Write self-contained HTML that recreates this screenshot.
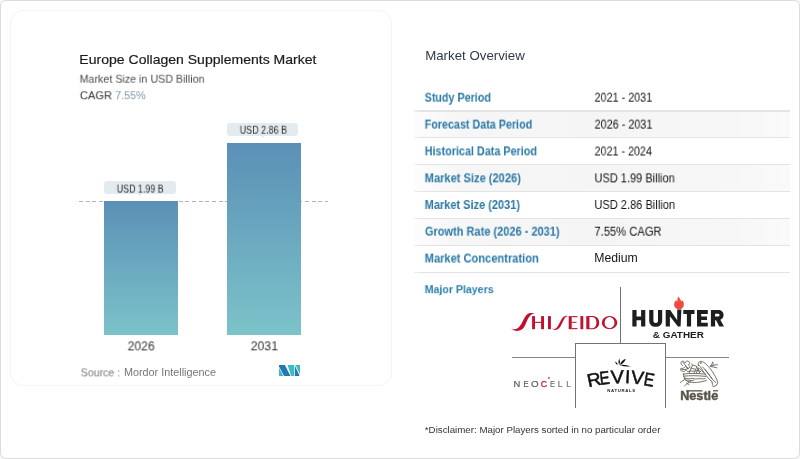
<!DOCTYPE html>
<html><head><meta charset="utf-8">
<style>
*{box-sizing:border-box;margin:0;padding:0}
html,body{width:800px;height:459px;overflow:hidden;background:#f7f7f7}
body{position:relative;font-family:"Liberation Sans",sans-serif;color:#222}
.outer{position:absolute;left:0;top:0;width:800px;height:459px;border:1px solid #dcdcdc;border-radius:6px;background:#fff}
.card{position:absolute;left:9.5px;top:9.5px;width:382px;height:376px;border:1px solid #f4f4f4;border-radius:13px;background:#fff}
.t{position:absolute;white-space:nowrap;line-height:1;transform-origin:0 0;will-change:transform}
.bar{position:absolute;background:linear-gradient(180deg,#5a90b6 0%,#7cc3c9 100%)}
.lbl{position:absolute;background:#e4ebee;border-radius:3px}
.dash{position:absolute;left:79px;top:200.8px;width:249px;height:1px;background:repeating-linear-gradient(90deg,#b4b4b4 0,#b4b4b4 4px,transparent 4px,transparent 6.65px)}
.row{position:absolute;left:414px;width:376px;height:26.8px}
.row.g{background:linear-gradient(90deg,#fdfdfd 0%,#f6f6f6 12%,#f5f5f5 50%,#f7f7f7 85%,#fafafa 100%)}
.sep{position:absolute;left:414px;width:376px;height:1.2px;background:linear-gradient(90deg,#f0f0f0 0,#e3e3e3 8px,#e3e3e3 100%)}
.ln{position:absolute;background:#737373}
</style></head><body>
<div class="outer"></div>
<div class="card"></div>

<div class="dash"></div>
<div class="bar" style="left:104px;top:201px;width:74px;height:134px"></div>
<div class="bar" style="left:227px;top:143px;width:74px;height:192px"></div>
<div class="lbl" style="left:104px;top:181px;width:72px;height:13px"></div>
<div class="lbl" style="left:227px;top:123px;width:71px;height:13px"></div>
<div style="position:absolute;left:138px;top:194px;width:0;height:0;border-left:2px solid transparent;border-right:2px solid transparent;border-top:2px solid #e4ebee"></div>
<div style="position:absolute;left:261px;top:136px;width:0;height:0;border-left:2px solid transparent;border-right:2px solid transparent;border-top:2px solid #e4ebee"></div>

<svg style="position:absolute;left:279px;top:365px" width="21" height="11" viewBox="0 0 21 10.8">
  <polygon points="0,0 5.9,0 11.5,10.8 5.05,10.8 0,1.4" fill="#2479b4"/>
  <polygon points="0,2.7 4.3,10.8 0,10.8" fill="#3bb9bf"/>
  <polygon points="8.6,0 15.3,0 15.3,10.8 12.2,10.8" fill="#3bbcc0"/>
  <polygon points="16.5,0 21,0 21,9.4" fill="#3bbcc0"/>
  <polygon points="16,0.6 20.6,10.8 16,10.8" fill="#2479b4"/>
</svg>

<div class="row g" style="top:111.60px;height:25.65px"></div>
<div class="row g" style="top:165.30px;height:25.65px"></div>
<div class="row g" style="top:219.00px;height:25.65px"></div>
<div class="sep" style="top:110.40px"></div>
<div class="sep" style="top:137.25px"></div>
<div class="sep" style="top:164.10px"></div>
<div class="sep" style="top:190.95px"></div>
<div class="sep" style="top:217.80px"></div>
<div class="sep" style="top:244.65px"></div>
<div class="sep" style="top:271.50px"></div>

<div class="t" style="left:79px;top:52px;font-size:13.27px;font-weight:400;color:#1b1b1b;transform:translate(0.37px,0.69px) scaleX(1.0574);font-family:'Liberation Sans',sans-serif;-webkit-text-stroke:0.2px #1b1b1b;">Europe Collagen Supplements Market</div>
<div class="t" style="left:79px;top:73px;font-size:10.96px;font-weight:400;color:#4a4a4a;transform:translate(0.63px,0.69px) scaleX(0.9767);font-family:'Liberation Sans',sans-serif;">Market Size in USD Billion</div>
<div class="t" style="left:79px;top:90px;font-size:11.24px;font-weight:400;color:#333;transform:translate(0.90px,0.25px) scaleX(0.9920);font-family:'Liberation Sans',sans-serif;">CAGR</div>
<div class="t" style="left:115px;top:90px;font-size:11.24px;font-weight:400;color:#7f98aa;transform:translate(0.27px,0.15px) scaleX(0.9557);font-family:'Liberation Sans',sans-serif;">7.55%</div>
<div class="t" style="left:425px;top:49px;font-size:12.57px;font-weight:400;color:#2f3a45;transform:translate(0.15px,0.75px) scaleX(1.0570);font-family:'Liberation Sans',sans-serif;">Market Overview</div>
<div class="t" style="left:424px;top:92px;font-size:11.87px;font-weight:700;color:#2b79a5;transform:translate(0.64px,0.69px) scaleX(0.9052);font-family:'Liberation Sans',sans-serif;">Study Period</div>
<div class="t" style="left:424px;top:119px;font-size:11.87px;font-weight:700;color:#2b79a5;transform:translate(0.68px,0.60px) scaleX(0.9061);font-family:'Liberation Sans',sans-serif;">Forecast Data Period</div>
<div class="t" style="left:424px;top:146px;font-size:11.87px;font-weight:700;color:#2b79a5;transform:translate(0.72px,0.37px) scaleX(0.9106);font-family:'Liberation Sans',sans-serif;">Historical Data Period</div>
<div class="t" style="left:424px;top:173px;font-size:11.87px;font-weight:700;color:#2b79a5;transform:translate(0.68px,0.27px) scaleX(0.9353);font-family:'Liberation Sans',sans-serif;">Market Size (2026)</div>
<div class="t" style="left:424px;top:200px;font-size:11.87px;font-weight:700;color:#2b79a5;transform:translate(0.67px,0.00px) scaleX(0.9268);font-family:'Liberation Sans',sans-serif;">Market Size (2031)</div>
<div class="t" style="left:424px;top:226px;font-size:11.87px;font-weight:700;color:#2b79a5;transform:translate(0.92px,0.68px) scaleX(0.9287);font-family:'Liberation Sans',sans-serif;">Growth Rate (2026 - 2031)</div>
<div class="t" style="left:424px;top:253px;font-size:11.87px;font-weight:700;color:#2b79a5;transform:translate(0.67px,0.56px) scaleX(0.9357);font-family:'Liberation Sans',sans-serif;">Market Concentration</div>
<div class="t" style="left:594px;top:92px;font-size:11.87px;font-weight:400;color:#141414;transform:translate(0.49px,0.65px) scaleX(0.9118);font-family:'Liberation Sans',sans-serif;">2021 - 2031</div>
<div class="t" style="left:594px;top:119px;font-size:11.87px;font-weight:400;color:#141414;transform:translate(0.58px,0.59px) scaleX(0.9132);font-family:'Liberation Sans',sans-serif;">2026 - 2031</div>
<div class="t" style="left:594px;top:146px;font-size:11.87px;font-weight:400;color:#141414;transform:translate(0.55px,0.45px) scaleX(0.9058);font-family:'Liberation Sans',sans-serif;">2021 - 2024</div>
<div class="t" style="left:594px;top:173px;font-size:11.87px;font-weight:400;color:#141414;transform:translate(0.49px,0.35px) scaleX(0.9291);font-family:'Liberation Sans',sans-serif;">USD 1.99 Billion</div>
<div class="t" style="left:594px;top:199px;font-size:11.87px;font-weight:400;color:#141414;transform:translate(0.39px,1.00px) scaleX(0.9336);font-family:'Liberation Sans',sans-serif;">USD 2.86 Billion</div>
<div class="t" style="left:594px;top:226px;font-size:11.87px;font-weight:400;color:#141414;transform:translate(0.40px,0.69px) scaleX(0.9429);font-family:'Liberation Sans',sans-serif;">7.55% CAGR</div>
<div class="t" style="left:594px;top:253px;font-size:11.87px;font-weight:400;color:#141414;transform:translate(0.25px,0.33px) scaleX(1.0323);font-family:'Liberation Sans',sans-serif;">Medium</div>
<div class="t" style="left:424px;top:283px;font-size:11.73px;font-weight:700;color:#2b7fae;transform:translate(0.69px,0.13px) scaleX(0.9047);font-family:'Liberation Sans',sans-serif;">Major Players</div>
<div class="t" style="left:116px;top:184px;font-size:10.20px;font-weight:400;color:#1f272d;transform:translate(0.80px,0.57px) scaleX(0.8701);font-family:'Liberation Sans',sans-serif;">USD 1.99 B</div>
<div class="t" style="left:239px;top:125px;font-size:10.20px;font-weight:400;color:#1f272d;transform:translate(0.73px,0.74px) scaleX(0.8803);font-family:'Liberation Sans',sans-serif;">USD 2.86 B</div>
<div class="t" style="left:127px;top:340px;font-size:12.22px;font-weight:400;color:#333;transform:translate(0.63px,0.32px) scaleX(0.9924);font-family:'Liberation Sans',sans-serif;">2026</div>
<div class="t" style="left:250px;top:340px;font-size:12.22px;font-weight:400;color:#333;transform:translate(0.70px,0.27px) scaleX(0.9997);font-family:'Liberation Sans',sans-serif;">2031</div>
<div class="t" style="left:80px;top:367px;font-size:10.75px;font-weight:400;color:#777;transform:translate(0.69px,0.32px) scaleX(0.9857);font-family:'Liberation Sans',sans-serif;">Source :</div>
<div class="t" style="left:123px;top:367px;font-size:10.75px;font-weight:400;color:#777;transform:translate(0.94px,0.32px) scaleX(1.0065);font-family:'Liberation Sans',sans-serif;">Mordor Intelligence</div>
<div class="t" style="left:424px;top:425px;font-size:9.64px;font-weight:400;color:#333;transform:translate(0.83px,0.04px) scaleX(1.0101);font-family:'Liberation Sans',sans-serif;">*Disclaimer: Major Players sorted in no particular order</div>

<!-- logo grid lines -->
<div class="ln" style="left:620px;top:287px;width:1px;height:56px"></div>
<div class="ln" style="left:575px;top:342.5px;width:91px;height:1px"></div>
<div class="ln" style="left:575px;top:342.5px;width:1px;height:65px"></div>
<div class="ln" style="left:665px;top:342.5px;width:1px;height:65px"></div>
<div class="ln" style="left:511.6px;top:356.6px;width:63.6px;height:1px;background:#858585"></div>
<div class="ln" style="left:665px;top:356.6px;width:64.2px;height:1px;background:#858585"></div>

<svg style="position:absolute;left:0;top:0" width="800" height="459" viewBox="0 0 800 459">
<!-- SHISEIDO -->
<g fill="#c01130">
  <path d="M511.2,328 C512.8,329.6 515.5,329.6 518,328 C520.5,326.2 522,322.5 523.6,319.5 C525.2,316.5 527,313.6 530,313 C532,312.6 534.2,313.2 535.6,314.5 C533.8,313.8 532,314 530.6,315.2 C528.8,316.8 527.6,319.5 526.3,322.5 C524.8,326.5 523,329.5 519.5,330.6 C516.5,331.4 513,330.6 511.2,328 Z"/>
  <path d="M552.2,328.3 C553.5,329.3 555,329.2 556.4,328 C558,326.4 559.5,323 560.8,320.5 C562,318 563.5,316.2 565.5,315.9 C566.3,315.8 567.1,315.9 567.8,316.2 C566.6,316.3 565.6,316.9 564.8,318 C563.4,320 562.4,323 561,325.5 C559.5,328.2 557.8,329.8 555.4,330 C554.2,330.1 553,329.5 552.2,328.3 Z"/>
  <rect x="532.1" y="316.1" width="2.9" height="13.1"/>
  <rect x="541.1" y="316.1" width="2.9" height="13.1"/>
  <rect x="534.8" y="321.8" width="6.5" height="1.1"/>
  <rect x="548" y="316.1" width="2.9" height="13.1"/>
  <rect x="568.7" y="316.1" width="3" height="13.1"/>
  <rect x="571.5" y="316.1" width="6" height="1.1"/>
  <rect x="571.5" y="321.8" width="5" height="1.0"/>
  <rect x="571.5" y="328.1" width="6" height="1.1"/>
  <rect x="580.4" y="316.1" width="2.9" height="13.1"/>
  <rect x="586.3" y="316.1" width="3" height="13.1"/>
  <path fill-rule="evenodd" d="M589,316.1 L592,316.1 C596.5,316.1 599.2,318.8 599.2,322.65 C599.2,326.5 596.5,329.2 592,329.2 L589,329.2 Z M589.2,317.1 L591.6,317.1 C594.8,317.1 596.4,319.2 596.4,322.65 C596.4,326.1 594.8,328.2 591.6,328.2 L589.2,328.2 Z"/>
  <path fill-rule="evenodd" d="M601.8,322.65 A7.75,6.6 0 1 0 617.3,322.65 A7.75,6.6 0 1 0 601.8,322.65 Z M604.6,322.65 A4.95,5.6 0 1 0 614.5,322.65 A4.95,5.6 0 1 0 604.6,322.65 Z"/>
</g>
<!-- HUNTER -->
<g fill="#1e1e1e">
  <path d="M632.35,310.1 h4.2 v6.5 h4.55 v-6.5 h4.2 v16.4 h-4.2 v-6.2 h-4.55 v6.2 h-4.2 Z"/>
  <path d="M649.2,310.1 H653.4 V320.5 C653.4,322.3 654.3,323 655.7,323 C657.1,323 658,322.3 658,320.5 V310.1 H662.2 V320.5 C662.2,324.6 659.5,326.8 655.7,326.8 C651.9,326.8 649.2,324.6 649.2,320.5 Z"/>
  <path d="M665.7,326.5 V310.1 H670.2 L677.2,320.3 V309.6 H681.4 L680.6,326.5 H677.9 L669.9,316.3 V326.5 Z"/>
  <path d="M683.3,310.1 H694.5 V314.1 H691.1 V326.5 H686.9 V314.1 H683.3 Z"/>
  <path d="M697,310.1 H707.8 V313.9 H701.2 V316.5 H707 V320.1 H701.2 V322.7 H707.8 V326.5 H697 Z"/>
  <path fill-rule="evenodd" d="M710.9,326.5 V310.1 H718 C721.5,310.1 723.6,312.2 723.6,315 C723.6,317.3 722.3,319 720.3,319.7 L724,326.5 H719.3 L716.1,320.2 H715.1 V326.5 Z M715.1,313.8 H717.8 C719,313.8 719.6,314.4 719.6,315.1 C719.6,315.9 719,316.6 717.8,316.6 H715.1 Z"/>
</g>
<path d="M678.2,296.4 C679.5,298 680.8,299.5 681.2,301.5 C681.8,301 682.2,300.8 682.6,300.6 C683.6,302 684,303.5 683.8,305 C683.6,307.5 681.8,309.3 679.2,309.3 C676.4,309.3 674.2,307.4 674.1,304.8 C674,302.8 675,301.2 676.3,299.9 C676.5,300.8 676.9,301.5 677.4,301.8 C677.2,299.8 677.5,298 678.2,296.4 Z" fill="#f04a3c"/>
<text x="652.8" y="338.2" font-family="Liberation Sans" font-weight="700" font-size="9.8" fill="#1e1e1e" textLength="51" lengthAdjust="spacingAndGlyphs">&amp; GATHER</text>
<!-- NEOCELL -->
<g font-family="Liberation Sans" font-size="9.2" fill="#555" stroke="#555" stroke-width="0.15">
  <text x="513.6" y="387.4" textLength="6.8" lengthAdjust="spacingAndGlyphs">N</text>
  <text x="523.6" y="387.4" textLength="5.2" lengthAdjust="spacingAndGlyphs">E</text>
  <text x="531" y="387.4" textLength="7.6" lengthAdjust="spacingAndGlyphs">O</text>
  <text x="540.8" y="387.4" textLength="6.4" lengthAdjust="spacingAndGlyphs" fill="#d0246a" stroke="#d0246a" stroke-width="0.35">C</text>
  <text x="550" y="387.4" textLength="5" lengthAdjust="spacingAndGlyphs" fill="#666" stroke="#666">E</text>
  <text x="557.8" y="387.4" textLength="4.8" lengthAdjust="spacingAndGlyphs" fill="#6a6a6a" stroke="#6a6a6a">L</text>
  <text x="566.3" y="387.4" textLength="4.8" lengthAdjust="spacingAndGlyphs" fill="#777" stroke="#777">L</text>
</g>
<circle cx="548.9" cy="377.9" r="0.95" fill="#cf2a69"/>
<!-- REVIVE -->
<g font-family="Liberation Sans" font-size="18.5" fill="#111" stroke="#111" stroke-width="0.5" text-anchor="middle">
<text transform="translate(595.3,385.9) rotate(-12) scale(1.05,1)">R</text>
<text transform="translate(605.4,384.1) rotate(-6.5) scale(0.82,1)">E</text>
<text transform="translate(617.7,383.2) rotate(-2.5) scale(1.07,1)">V</text>
<text transform="translate(627.3,383.2) rotate(3)">I</text>
<text transform="translate(636.9,383.8) rotate(6) scale(1.04,1)">V</text>
<text transform="translate(648.2,385.8) rotate(9.5) scale(0.84,1)">E</text>
</g>
<text x="607.3" y="391.8" font-family="Liberation Sans" font-weight="700" font-size="4.3" fill="#222" textLength="27.8" lengthAdjust="spacing">NATURALS</text>
<g fill="#111">
<path d="M618.00,365.00 Q617.42,362.39 614.90,361.50 Q615.48,364.11 618.00,365.00 Z"/>
<path d="M619.20,365.00 Q620.70,361.60 619.20,358.20 Q617.70,361.60 619.20,365.00 Z"/>
<path d="M619.80,365.00 Q624.31,363.36 625.80,358.80 Q621.29,360.44 619.80,365.00 Z"/>
<path d="M619.60,365.00 Q625.01,367.19 630.80,366.40 Q625.39,364.21 619.60,365.00 Z"/>
</g>
<!-- Nestle nest -->
<g fill="none" stroke="#5e5a50" stroke-width="0.85" stroke-linecap="round" stroke-linejoin="round">
  <!-- leaves -->
  <path d="M682.5,365.5 C680.5,364 680.3,361.5 682.5,361.2 C683.8,361 684.6,362 685,363 C685.5,361.2 687.5,360.5 688.8,361.5 C690,362.5 689.6,364.2 688.4,365 C689.8,365.6 690.2,367.2 689,368 C688,368.7 686.8,368.3 686.2,367.6"/>
  <path d="M685.5,366.5 C684.5,368 682.5,368.8 681,368.2 C680,369.6 680.8,371.4 682.6,371.2 C683.6,371.8 685.2,371.4 685.8,370.2 C687,370.2 687.8,369.2 687.4,368.2"/>
  <path d="M683,362.5 L688.2,368.6 M681.8,369.6 L686,369.4"/>
  <!-- baby birds -->
  <path d="M689,373.2 L692.6,365 L697,366.4 L694,373.2"/>
  <path d="M692.6,365 L691.4,363.8 M691,368 L694.5,369"/>
  <path d="M696.6,372.6 L698,367.5 L699.5,373"/>
  <!-- nest -->
  <path d="M683.4,374 C690,373.2 698,373.2 705.6,374.2"/>
  <path d="M683.6,376.2 C690,375.4 698,375.6 705.8,376.4"/>
  <path d="M684.2,378.4 C686.5,377.6 688,379.4 690.5,378.6 C693,377.8 695,379.6 697.5,378.8 C700,378 702,379.6 705.2,378.6"/>
  <path d="M683.4,374 C683.6,377.5 685,380.6 688,381.6 C692.5,383 700,382.8 706.4,380.4"/>
  <path d="M686,380.2 C688.5,379.8 691,381 693.5,380.4"/>
  <!-- twigs -->
  <path d="M680.2,382.6 C682,381 683.8,380 685.6,379.2 M684.6,385.8 C686.4,384 688.4,382.4 690.8,381.2 M686.8,383.4 L689,384.4"/>
  <!-- big bird -->
  <path d="M698.4,365.4 C697.6,363.6 698.6,361.6 700.6,361.4 C703.4,361.2 706.5,364.2 709.5,367.8 C712.8,371.8 715.6,376.4 717.6,381.4 C718,383.2 717.4,384.6 716.2,385.4"/>
  <path d="M698.4,365.4 C699.2,365.6 699.8,366 700.4,366.6 C701.8,368.8 703,371.4 705.2,374.4 C707.4,377.4 709.6,379.8 712,381.8"/>
  <path d="M702.8,367.2 C706,370.6 709.8,375.4 712.6,379.4 C713.6,380.8 714.8,382 716,382.6"/>
  <path d="M712,381.8 C712.2,383.6 712.8,385.6 713.4,386.8 L714.8,386.2 L716.2,385.4"/>
  <circle cx="700.8" cy="363" r="0.35" fill="#625e54"/>
  <path d="M705,369.5 C707.5,372.5 710,376 711.8,378.6 M699.5,368.5 C701,369.5 702.5,371 703.6,372.6"/>
  <path d="M687.5,371.5 C690,370.5 692,371.5 693.8,371 M695,371 C697,370 699,371 700.8,371.6"/>
  <!-- small bird -->
  <path d="M710.4,366 C711.2,365.2 711.8,364.2 712.6,362.2 M710.4,366 C712.6,365.4 715,364.8 717.4,364.6 M710.6,366.4 C712.8,366.8 715,367.2 716.8,367.8 M712.6,362.2 C713.2,363.6 713.4,364.4 713.2,365.2"/>
</g>
<!-- Nestle text -->
<g fill="#58544a">
  <text x="680.2" y="399.9" font-family="Liberation Sans" font-weight="700" font-size="12.6" textLength="38" lengthAdjust="spacingAndGlyphs" stroke="#58544a" stroke-width="0.45">Nestle</text>
  <rect x="686" y="390.2" width="16.5" height="1.3"/>
  <rect x="713" y="390.2" width="5" height="1.2"/>
</g>
</svg>

</body></html>
